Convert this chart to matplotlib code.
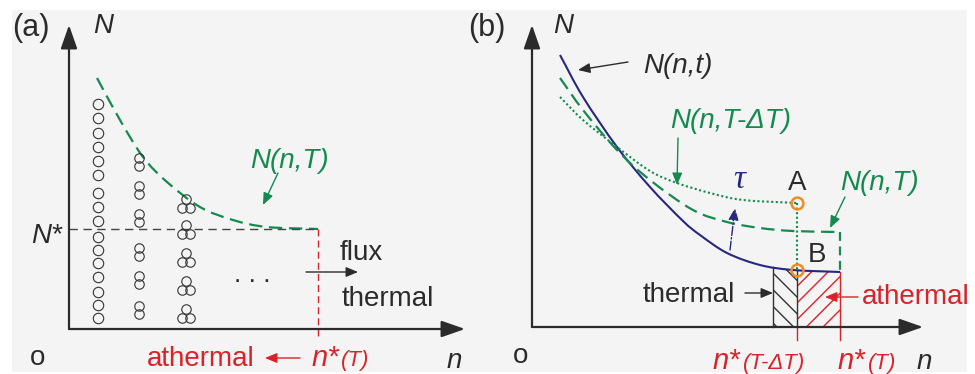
import numpy as np
import matplotlib.pyplot as plt
from matplotlib.patches import Rectangle, PathPatch
from matplotlib.path import Path

plt.rcParams['font.family'] = ['Liberation Sans', 'DejaVu Sans']

GREEN = '#148a4f'
RED = '#d8232a'
BLUE = '#27277f'
ORANGE = '#ee8c20'
INK = '#2b2b2b'
FS = 20

# %%
# Values (schematic units, origin at the axes corner)
# ------------------------------------------------------------------------

# panel (a)
a_curve_n = [28, 51, 74, 98, 131, 164, 198, 249]
a_curve_N = [251, 209, 172, 147, 122, 109, 102, 100]
a_nstar = 249
a_Nstar = 100
cluster_n = [29, 70, 117]          # monomers, dimers, trimers
mono_N = [225, 211, 196, 182, 168, 154, 136, 122, 108, 92, 79, 66, 52, 37, 24, 11]
dimer_N = [167, 139, 111, 77, 49, 19]
trimer_N = [125, 99, 71, 43, 15]

# panel (b)
b_t_n = [28, 51, 85, 118, 151, 168, 195, 228, 261, 308]
b_t_N = [272, 230, 180, 140, 106, 92, 74, 62, 57, 55]
b_T_n = [28, 51, 85, 118, 161, 195, 228, 261, 308]
b_T_N = [249, 217, 177, 147, 117, 105, 99, 96, 95]
b_dT_n = [28, 51, 85, 118, 145, 178, 211, 265]
b_dT_N = [230, 207, 180, 156, 144, 134, 127, 124]
b_n_lo = 241      # left edge of the thermal strip
b_nstar_dT = 265  # n*(T - dT), points A and B
b_nstar_T = 308   # n*(T)


def arrow(ax, tail, tip, color=INK, lw=1.0, size=12, hl=0.6, hw=0.25, ls='-'):
    ax.annotate('', xy=tip, xytext=tail,
                arrowprops=dict(arrowstyle=f'-|>,head_length={hl},head_width={hw}',
                                color=color, lw=lw, ls=ls, mutation_scale=size,
                                shrinkA=0, shrinkB=0))


def axes_arrows(ax, ntip, Ntip):
    arrow(ax, (0, 0), (ntip, 0), lw=1.6, size=12, hl=1.2, hw=0.42)
    arrow(ax, (0, 0), (0, Ntip), lw=1.6, size=12, hl=1.2, hw=0.42)


def smooth(ax, xs, ys, **kw):
    # Catmull-Rom through the read points, drawn as cubic Bezier segments
    p = np.column_stack([xs, ys]).astype(float)
    ext = np.vstack([2 * p[0] - p[1], p, 2 * p[-1] - p[-2]])
    verts, codes = [p[0]], [Path.MOVETO]
    for i in range(1, len(ext) - 2):
        p0, p1, p2, p3 = ext[i - 1:i + 3]
        verts += [p1 + (p2 - p0) / 6, p2 - (p3 - p1) / 6, p2]
        codes += [Path.CURVE4] * 3
    ax.add_patch(PathPatch(Path(verts, codes), fill=False, capstyle='butt', **kw))


fig = plt.figure(figsize=(9.75, 3.74), dpi=100)
bg = fig.add_axes([0, 0, 1, 1])
bg.set_xlim(0, 975)
bg.set_ylim(374, 0)
bg.axis('off')
bg.add_patch(Rectangle((12, 10), 955, 362, facecolor='#f4f4f4', edgecolor='none'))

# %%
# Panel (a)
# ~~~~~~~~~
ax = fig.add_axes([0, 0, 487 / 975, 1])
ax.set_xlim(-69, 418)
ax.set_ylim(-45, 329)
ax.axis('off')
axes_arrows(ax, 396, 304)

ax.plot([0, a_nstar], [a_Nstar, a_Nstar], color='#444444', lw=1.0, dashes=(6, 4))
ax.plot([a_nstar, a_nstar], [a_Nstar, -9], color=RED, lw=1.0, dashes=(5, 3))
smooth(ax, a_curve_n, a_curve_N, edgecolor=GREEN, lw=1.6, ls=(0, (6, 3)))

ring = dict(ls='none', marker='o', mfc='none', mec='#333333', mew=0.8)
mono_y = np.array(mono_N)
ax.plot(np.full(mono_y.size, cluster_n[0]), mono_y, ms=7.5, **ring)
dim_y = np.array(dimer_N)
for dy in (-4.4, 4.4):
    ax.plot(np.full(dim_y.size, cluster_n[1]), dim_y + dy, ms=6.8, **ring)
tri_y = np.array(trimer_N)
for dx, dy in ((0, 4.6), (-4.4, -3.6), (4.4, -3.6)):
    ax.plot(np.full(tri_y.size, cluster_n[2] + dx), tri_y + dy, ms=6.8, **ring)

ax.text(183, 47, '. . .', fontsize=19, color=INK, ha='center', va='baseline')
ax.text(-57, 293, '(a)', fontsize=22, color=INK, va='baseline')
ax.text(24, 296, 'N', fontsize=20, style='italic', color=INK, va='baseline')
ax.text(-7, 86, 'N*', fontsize=20, style='italic', color=INK, ha='right', va='baseline')
ax.text(181, 161, 'N(n,T)', fontsize=FS, style='italic', color=GREEN, va='baseline')
arrow(ax, (209, 156), (194, 124), color=GREEN)
ax.text(271, 69, 'flux', fontsize=FS, color=INK, va='baseline')
arrow(ax, (237, 57), (289, 57))
ax.text(273, 23, 'thermal', fontsize=FS, color=INK, va='baseline')
ax.text(186, -37, 'athermal', fontsize=FS, color=RED, ha='right', va='baseline')
arrow(ax, (231, -29), (196, -29), color=RED)
ax.text(243, -37, 'n*', fontsize=21, style='italic', color=RED, va='baseline')
ax.text(272, -37, '(T)', fontsize=16, style='italic', color=RED, va='baseline')
ax.text(-39, -36, 'o', fontsize=20, color=INK, va='baseline')
ax.text(378, -39, 'n', fontsize=20, style='italic', color=INK, va='baseline')

# %%
# Panel (b)
# ~~~~~~~~~
bx = fig.add_axes([487 / 975, 0, 488 / 975, 1])
bx.set_xlim(-45, 443)
bx.set_ylim(-47, 327)
bx.axis('off')

xs = np.linspace(b_n_lo, b_nstar_dT, 30)
bx.fill_between(xs, 0, np.interp(xs, b_t_n, b_t_N), facecolor='none',
                edgecolor='#333333', linewidth=0, hatch='\\\\')
xs = np.linspace(b_nstar_dT, b_nstar_T, 30)
bx.fill_between(xs, 0, np.interp(xs, b_t_n, b_t_N), facecolor='none',
                edgecolor=RED, linewidth=0, hatch='//')
for n0, c in ((b_n_lo, '#333333'), (b_nstar_dT, '#333333'), (b_nstar_T, RED)):
    bx.plot([n0, n0], [0, np.interp(n0, b_t_n, b_t_N)], color=c, lw=1.0)
for n0 in (b_nstar_dT, b_nstar_T):
    bx.plot([n0, n0], [0, -13], color=RED, lw=1.0)

axes_arrows(bx, 391, 302)

smooth(bx, b_t_n, b_t_N, edgecolor=BLUE, lw=1.5)
smooth(bx, b_T_n, b_T_N, edgecolor=GREEN, lw=1.6, ls=(0, (6, 3)))
bx.plot([b_nstar_T, b_nstar_T], [b_T_N[-1], b_t_N[-1]], color=GREEN, lw=1.6, dashes=(4, 2.5))
smooth(bx, b_dT_n, b_dT_N, edgecolor=GREEN, lw=1.5, ls=(0, (1, 1.2)))
NA = b_dT_N[-1]
NB = np.interp(b_nstar_dT, b_t_n, b_t_N)
bx.plot([b_nstar_dT, b_nstar_dT], [NA, NB], color=GREEN, lw=1.5, ls=(0, (1, 1.2)))
bx.plot([b_nstar_dT, b_nstar_dT], [NA, NB], ls='none', marker='o', ms=8.5,
        mfc='none', mec=ORANGE, mew=1.8)

arrow(bx, (198, 77), (203, 119), color=BLUE, lw=1.0, ls='-.')
bx.text(201, 139, 'τ', fontsize=24, style='italic', family=['Liberation Serif', 'DejaVu Serif'],
        color=BLUE, va='baseline')
bx.text(265, 137, 'A', fontsize=FS, color=INK, ha='center', va='baseline')
bx.text(276, 65, 'B', fontsize=FS, color=INK, va='baseline')

bx.text(-64, 291, '(b)', fontsize=22, color=INK, va='baseline')
bx.text(21, 294, 'N', fontsize=20, style='italic', color=INK, va='baseline')
bx.text(111, 254, 'N(n,t)', fontsize=FS, style='italic', color=INK, va='baseline')
arrow(bx, (96, 265), (46, 257))
bx.text(138, 199, 'N(n,T-ΔT)', fontsize=FS, style='italic', color=GREEN, va='baseline')
arrow(bx, (146, 189), (145, 142), color=GREEN)
bx.text(308, 137, 'N(n,T)', fontsize=FS, style='italic', color=GREEN, va='baseline')
arrow(bx, (313, 130), (298, 99), color=GREEN)

bx.text(203, 25, 'thermal', fontsize=FS, color=INK, ha='right', va='baseline')
arrow(bx, (213, 34), (241, 34))
bx.text(330, 23, 'athermal', fontsize=FS, color=RED, va='baseline')
arrow(bx, (326, 30), (293, 30), color=RED)

bx.text(181, -42, 'n*', fontsize=21, style='italic', color=RED, va='baseline')
bx.text(211, -42, '(T-ΔT)', fontsize=16, style='italic', color=RED, va='baseline')
bx.text(306, -42, 'n*', fontsize=21, style='italic', color=RED, va='baseline')
bx.text(336, -42, '(T)', fontsize=16, style='italic', color=RED, va='baseline')
bx.text(385, -42, 'n', fontsize=20, style='italic', color=INK, va='baseline')
bx.text(-19, -36, 'o', fontsize=20, color=INK, va='baseline')

fig.savefig('out.png', dpi=100)
